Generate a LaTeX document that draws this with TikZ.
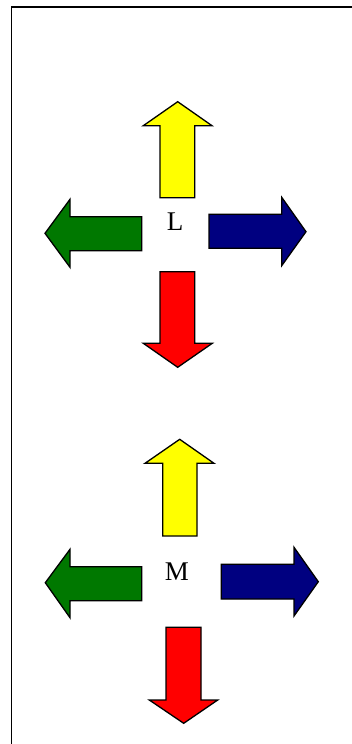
\documentclass[tikz,border=0pt]{standalone}
\usepackage{fontspec}
\setmainfont{Liberation Serif}
\definecolor{arrgreen}{RGB}{0,120,0}
\definecolor{arrblue}{RGB}{0,0,128}
\definecolor{arryellow}{RGB}{255,255,0}
\definecolor{arrred}{RGB}{255,0,0}
\begin{document}
\begin{tikzpicture}[x=1pt,y=-1pt,
  arrowshape/.style={draw=black,line width=1.3pt,line join=miter},
  lbl/.style={font=\fontsize{27}{29}\selectfont,inner sep=0pt}]
\useasboundingbox (0,0) rectangle (352,744);
% frame (only top and left edges are inside the page)
\draw[line width=1.8pt] (11.5,7.3) rectangle (400,800);
% group L
\draw[arrowshape,fill=arryellow] (160,197.7) -- (160,125.7) -- (143.3,125.7) -- (177.7,101.7) -- (212,125.7) -- (194.7,125.7) -- (194.7,197.7) -- cycle;
\draw[arrowshape,fill=arrgreen] (141.7,216.7) -- (70,216.7) -- (70,199.3) -- (45,233.3) -- (70,267.3) -- (70,250.7) -- (141.7,250.7) -- cycle;
\draw[arrowshape,fill=arrblue] (209,214.3) -- (281.7,214.3) -- (281.7,197.3) -- (306,231.7) -- (281.7,265.7) -- (281.7,248.3) -- (209,248.3) -- cycle;
\draw[arrowshape,fill=arrred] (160,271.7) -- (194.7,271.7) -- (194.7,343.3) -- (212.3,343.3) -- (177.7,367.3) -- (143.3,343.3) -- (160,343.3) -- cycle;
\node[lbl] (L) at (175,222) {L};
% group M
\draw[arrowshape,fill=arryellow] (162.7,536) -- (162.7,463.3) -- (145,463.3) -- (179.7,439.3) -- (214,463.3) -- (197,463.3) -- (197,536) -- cycle;
\draw[arrowshape,fill=arrgreen] (141.7,566.7) -- (70,566.7) -- (70,549.3) -- (45.3,582.7) -- (70,617.7) -- (70,600.7) -- (141.7,600.7) -- cycle;
\draw[arrowshape,fill=arrblue] (221.3,564.3) -- (294,564.3) -- (294,547.3) -- (318.3,581.7) -- (294,616) -- (294,599) -- (221.3,599) -- cycle;
\draw[arrowshape,fill=arrred] (166,627.3) -- (201,627.3) -- (201,700) -- (217.7,700) -- (183.7,723.3) -- (149.3,700) -- (166,700) -- cycle;
\node[lbl] (M) at (177,572) {M};
\end{tikzpicture}
\end{document}
